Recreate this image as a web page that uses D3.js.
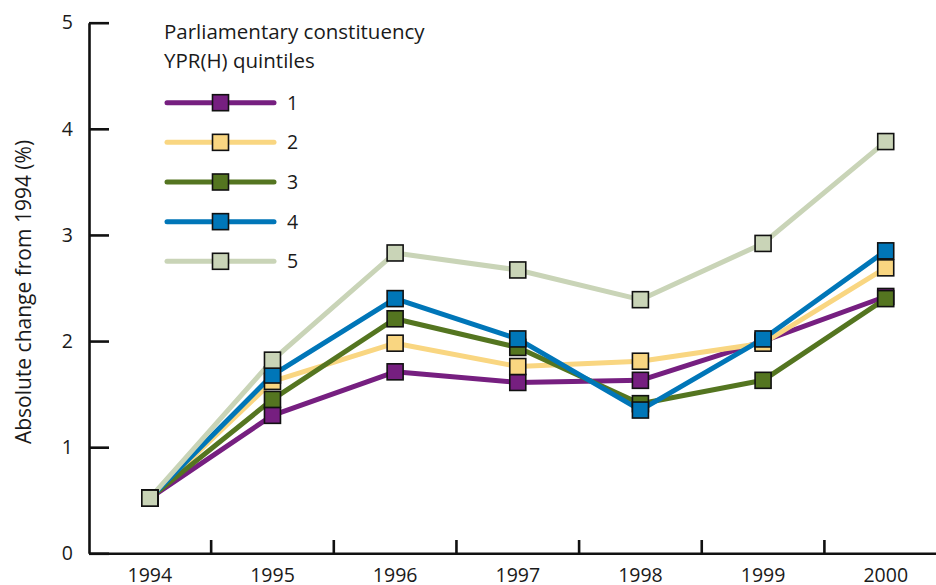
<!DOCTYPE html>
<html><head><meta charset="utf-8">
<script src="https://cdn.jsdelivr.net/npm/d3@7/dist/d3.min.js"></script>
<style>
html,body{margin:0;padding:0;background:#fff;}
svg text{font-family:"Open Sans",Arial,sans-serif;fill:#1a1a1a;}
</style></head>
<body><svg id="chart" width="936" height="585"></svg>
<script>
const years = ["1994","1995","1996","1997","1998","1999","2000"];
const seriesNames = ["1","2","3","4","5"];
const colors = ["#761f80","#f9d681","#547520","#0076b8","#c9d4b7"];
const q1 = [0.52,1.30,1.71,1.61,1.63,2.00,2.42];
const q2 = [0.52,1.62,1.98,1.76,1.81,1.98,2.69];
const q3 = [0.52,1.45,2.21,1.94,1.41,1.63,2.40];
const q4 = [0.52,1.68,2.40,2.02,1.35,2.02,2.85];
const q5 = [0.52,1.82,2.83,2.67,2.39,2.92,3.88];
const yTicks = [0,1,2,3,4,5];
const legendTitle = ["Parliamentary constituency","YPR(H) quintiles"];
const yLabel = "Absolute change from 1994 (%)";

const FONT = "Open Sans, Arial, sans-serif";
const FS = 19.5;
const values = [q1,q2,q3,q4,q5];
const series = seriesNames.map((n,i)=>({name:n,color:colors[i],values:values[i].map((v,j)=>({year:years[j],v}))}));

const svg = d3.select("#chart");
const x = d3.scaleBand().domain(years).range([88.5, 88.5+7*122.65]);
const y = d3.scaleLinear().domain([0,5]).range([553.3,22.7]);

// y axis
const ya = svg.append("g").attr("transform","translate(89,0)")
  .call(d3.axisLeft(y).tickValues(yTicks).tickFormat(d3.format("d")).tickSizeInner(-20).tickSizeOuter(0).tickPadding(16));
ya.select(".domain").attr("stroke","#111").attr("stroke-width",2.6);
ya.selectAll(".tick line").attr("stroke","#111").attr("stroke-width",2.6);
ya.selectAll(".tick text").attr("font-size",FS).attr("font-family",FONT).attr("fill","#1a1a1a");

// x axis
const xa = svg.append("g").attr("transform","translate(0,553.3)")
  .call(d3.axisBottom(x).tickSize(0).tickPadding(15));
xa.select(".domain").attr("stroke","#111").attr("stroke-width",2.6);
xa.selectAll(".tick text").attr("font-size",FS).attr("font-family",FONT).attr("fill","#1a1a1a");
svg.append("g").selectAll("line").data(years.slice(1)).join("line")
  .attr("x1",d=>x(d)).attr("x2",d=>x(d)).attr("y1",553.3).attr("y2",540)
  .attr("stroke","#111").attr("stroke-width",2.6);

// y label
svg.append("text").attr("transform","translate(31,292) rotate(-90)")
  .attr("text-anchor","middle").attr("font-size",21).text(yLabel);

// lines
const line = d3.line().x(d=>x(d.year)+x.bandwidth()/2).y(d=>y(d.v));
svg.append("g").selectAll("path").data(series).join("path")
  .attr("d",d=>line(d.values)).attr("fill","none").attr("stroke",d=>d.color)
  .attr("stroke-width",5).attr("stroke-linejoin","round");
// markers
const ms = 16;
series.forEach(s=>{
  svg.append("g").selectAll("rect").data(s.values).join("rect")
    .attr("x",d=>x(d.year)+x.bandwidth()/2-ms/2).attr("y",d=>y(d.v)-ms/2)
    .attr("width",ms).attr("height",ms).attr("fill",s.color)
    .attr("stroke","#111").attr("stroke-width",1.6);
});

// legend
const lg = svg.append("g");
lg.selectAll("text.title").data(legendTitle).join("text").attr("class","title")
  .attr("x",164).attr("y",(d,i)=>39+i*28.5).attr("font-size",20.5).text(d=>d);
const ly = i=>102.7+i*39.65;
const items = lg.selectAll("g.item").data(series).join("g").attr("class","item");
items.append("line").attr("x1",167).attr("x2",274).attr("y1",(d,i)=>ly(i)).attr("y2",(d,i)=>ly(i))
  .attr("stroke",d=>d.color).attr("stroke-width",5).attr("stroke-linecap","round");
items.append("rect").attr("x",220.5-ms/2).attr("y",(d,i)=>ly(i)-ms/2).attr("width",ms).attr("height",ms)
  .attr("fill",d=>d.color).attr("stroke","#111").attr("stroke-width",1.6);
items.append("text").attr("x",287).attr("y",(d,i)=>ly(i)+7).attr("font-size",FS).text(d=>d.name);
</script></body></html>
